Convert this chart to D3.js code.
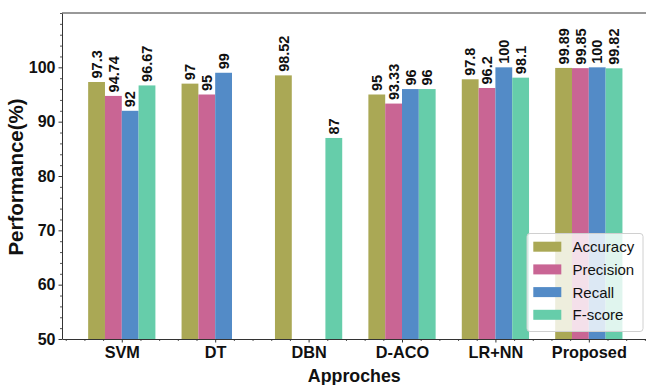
<!DOCTYPE html>
<html><head><meta charset="utf-8">
<script src="https://cdn.jsdelivr.net/npm/d3@7"></script>
<style>
html,body{margin:0;padding:0;background:#fff;}
svg{display:block;}
text{font-family:"Liberation Sans",Arial,sans-serif;}
</style></head>
<body>
<svg id="chart" width="646" height="385"></svg>
<script>
const categories = ["SVM", "DT", "DBN", "D-ACO", "LR+NN", "Proposed"];
const seriesNames = ["Accuracy", "Precision", "Recall", "F-score"];
const accuracy  = [97.3, 97, 98.52, 95, 97.8, 99.89];
const precision = [94.74, 95, null, 93.33, 96.2, 99.85];
const recall    = [92, 99, null, 96, 100, 100];
const fscore    = [96.67, null, 87, 96, 98.1, 99.82];
const yTicks = [50, 60, 70, 80, 90, 100];
const colors = ["#aaa855", "#c96594", "#538bc7", "#66cdaa"];
const allSeries = [accuracy, precision, recall, fscore];

const svg = d3.select("#chart");
const L = 62, R = 648.6, T = 13, B = 339;
const x = d3.scaleLinear().domain([-0.64, 5.64]).range([L, R]);
const y = d3.scaleLinear().domain([50, 110]).range([B, T]);
const bw = 0.18;

// bars
allSeries.forEach((vals, si) => {
  const g = svg.append("g");
  vals.forEach((v, ci) => {
    if (v == null) return;
    const x0 = x(ci + (si - 2) * bw), x1 = x(ci + (si - 1) * bw);
    g.append("rect").attr("x", x0).attr("y", y(v))
      .attr("width", x1 - x0).attr("height", y(50) - y(v))
      .attr("fill", colors[si]);
    const cx = (x0 + x1) / 2;
    g.append("text")
      .attr("transform", `translate(${cx},${y(v) - 3.5}) rotate(-90)`)
      .attr("dy", "0.36em")
      .attr("font-size", "14.5px").attr("font-weight", "bold")
      .attr("fill", "#111")
      .text(String(v));
  });
});

// y axis
const yMinor = d3.range(50, 110.01, 2).filter(v => v % 10 !== 0 || v === 110);
svg.append("g").attr("transform", `translate(${L},0)`)
  .call(d3.axisLeft(y).tickValues(yMinor).tickSize(2).tickFormat(""))
  .call(g => g.select(".domain").remove())
  .call(g => g.selectAll("line").attr("stroke", "#555"));
const ya = svg.append("g").attr("transform", `translate(${L},0)`)
  .call(d3.axisLeft(y).tickValues(yTicks).tickSize(3.5).tickSizeOuter(0).tickPadding(3));
ya.select(".domain").attr("stroke", "#333");
ya.selectAll("line").attr("stroke", "#333");
ya.selectAll("text").attr("font-size", "16px").attr("font-weight", "bold")
  .attr("fill", "#111").style("font-family", '"Liberation Sans",Arial,sans-serif');

// x axis
const xMinor = d3.range(-0.6, 5.61, 0.2).filter(v => Math.abs(v - Math.round(v)) > 0.01);
svg.append("g").attr("transform", `translate(0,${B})`)
  .call(d3.axisBottom(x).tickValues(xMinor).tickSize(2).tickFormat(""))
  .call(g => g.select(".domain").remove())
  .call(g => g.selectAll("line").attr("stroke", "#555"));
const xa = svg.append("g").attr("transform", `translate(0,${B})`)
  .call(d3.axisBottom(x).tickValues(d3.range(categories.length)).tickSize(3.5).tickSizeOuter(0)
    .tickPadding(3.5).tickFormat(i => categories[i]));
xa.select(".domain").attr("stroke", "#333");
xa.selectAll("line").attr("stroke", "#333");
xa.selectAll("text").attr("font-size", "16.3px").attr("font-weight", "bold")
  .attr("fill", "#111").style("font-family", '"Liberation Sans",Arial,sans-serif');

// top spine
svg.append("line").attr("x1", L).attr("x2", R).attr("y1", T).attr("y2", T)
  .attr("stroke", "#333");

// axis labels
svg.append("text").attr("transform", `translate(22.5,${(T + B) / 2 + 1}) rotate(-90)`)
  .attr("text-anchor", "middle").attr("font-size", "20.5px").attr("font-weight", "bold")
  .attr("fill", "#111").text("Performance(%)");
svg.append("text").attr("x", (L + R) / 2 - 1).attr("y", 381.5)
  .attr("text-anchor", "middle").attr("font-size", "17.8px").attr("font-weight", "bold")
  .attr("fill", "#111").text("Approches");

// legend
const lg = svg.append("g");
lg.append("rect").attr("x", 527).attr("y", 233.5).attr("width", 116).attr("height", 98)
  .attr("rx", 3).attr("fill", "#fff").attr("fill-opacity", 0.8).attr("stroke", "#d0d0d0");
seriesNames.forEach((n, i) => {
  const yy = 246.7 + i * 22.7;
  lg.append("rect").attr("x", 533.3).attr("y", yy - 5).attr("width", 28).attr("height", 10)
    .attr("fill", colors[i]);
  lg.append("text").attr("x", 572.5).attr("y", yy + 5.5).attr("font-size", "15px")
    .attr("fill", "#111").text(n);
});
</script>
</body></html>
